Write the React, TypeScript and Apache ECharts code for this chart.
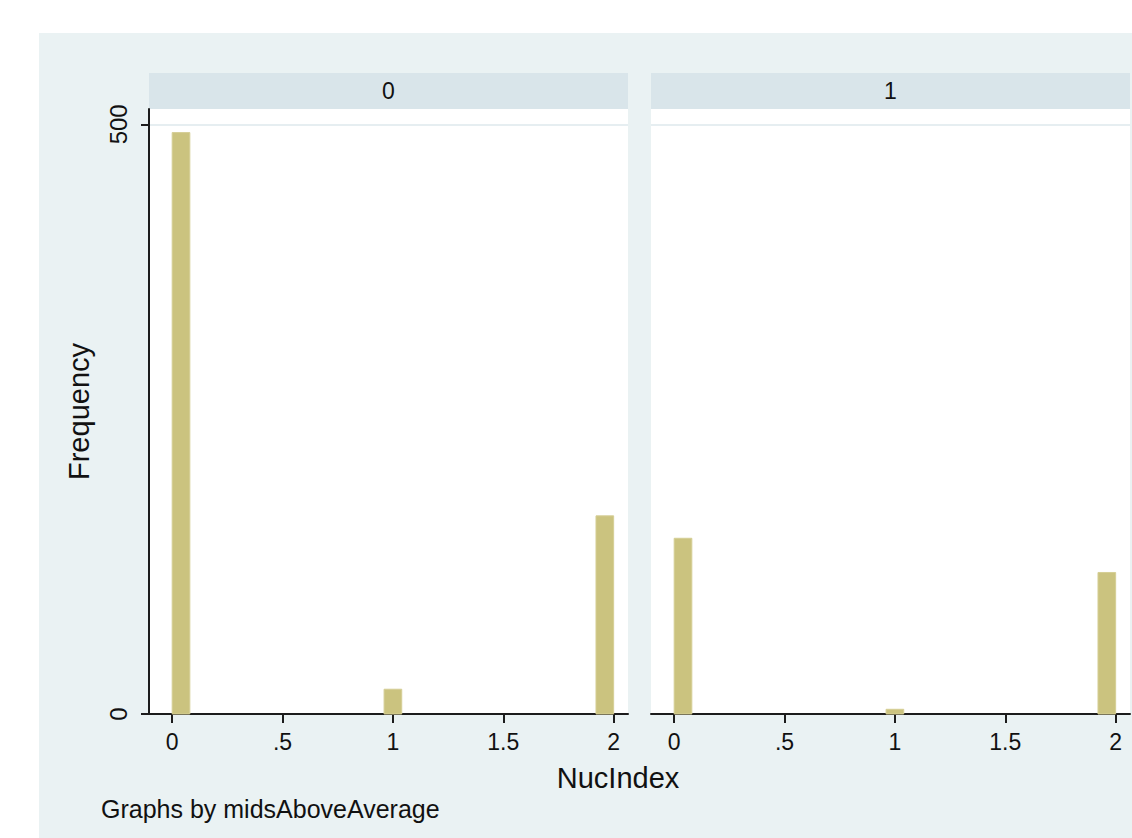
import React, { useEffect, useRef } from "react";
import * as echarts from "echarts";

const panelLabels = ["0", "1"];
const binWidth = 0.08;
const binStarts = [0, 0.96, 1.92];
const countsMid0 = [493, 21, 168];
const countsMid1 = [149, 4, 120];
const xTicks = [0, 0.5, 1, 1.5, 2];
const yTicks = [0, 500];
const xTitle = "NucIndex";
const yTitle = "Frequency";
const note = "Graphs by midsAboveAverage";

const FONT = "'Liberation Sans', Arial, Helvetica, sans-serif";
const BAR_FILL = "#CBC37F";
const BAR_STROKE = "#D5CE95";
const AXIS = "#1c1c1c";

function fmt(v: number) {
  const s = String(v);
  return s.startsWith("0.") ? s.slice(1) : s;
}

export default function App() {
  const ref = useRef<HTMLDivElement>(null);
  useEffect(() => {
    if (!ref.current) return;
    const chart = echarts.init(ref.current, null, { renderer: "svg" });
    const panels = [countsMid0, countsMid1];
    const grids = [
      { left: 149, top: 109, width: 479, height: 605 },
      { left: 651, top: 109, width: 479, height: 605 },
    ];
    const xAxes = grids.map((_, i) => ({
      type: "value",
      gridIndex: i,
      min: -0.105,
      max: 2.065,
      axisLine: { show: true, onZero: false, lineStyle: { color: AXIS, width: 2 } },
      axisTick: { show: true, length: 9, customValues: xTicks, lineStyle: { color: AXIS, width: 2 } },
      axisLabel: {
        show: true,
        customValues: xTicks,
        formatter: (v: number) => fmt(v),
        fontSize: 23,
        fontFamily: FONT,
        color: "#111",
        margin: 16,
      },
      splitLine: { show: false },
    }));
    const yAxes = grids.map((_, i) => ({
      type: "value",
      gridIndex: i,
      min: 0,
      max: 513,
      name: i === 0 ? yTitle : "",
      nameLocation: "middle",
      nameGap: 56,
      nameRotate: 90,
      nameTextStyle: { fontSize: 29, fontFamily: FONT, color: "#111" },
      axisLine: { show: i === 0, onZero: false, lineStyle: { color: AXIS, width: 2 } },
      axisTick: { show: i === 0, length: 8, customValues: yTicks, lineStyle: { color: AXIS, width: 2 } },
      axisLabel: {
        show: i === 0,
        customValues: yTicks,
        rotate: 90,
        fontSize: 24,
        fontFamily: FONT,
        color: "#111",
        margin: 19,
      },
      splitLine: { show: true, lineStyle: { color: "#E6EEF1", width: 2 } },
    }));
    const series = panels.map((counts, i) => ({
      type: "custom",
      xAxisIndex: i,
      yAxisIndex: i,
      data: binStarts.map((s, k) => [s, s + binWidth, counts[k]]),
      encode: { x: [0, 1], y: 2 },
      renderItem: (params: any, api: any) => {
        const p0 = api.coord([api.value(0), api.value(2)]);
        const p1 = api.coord([api.value(1), 0]);
        return {
          type: "rect",
          shape: { x: p0[0], y: p0[1], width: p1[0] - p0[0], height: p1[1] - p0[1] },
          style: { fill: BAR_FILL, stroke: BAR_STROKE, lineWidth: 1 },
        };
      },
    }));
    const graphic: any[] = [
      { type: "rect", z: -10, shape: { x: 39, y: 33, width: 1093, height: 805 }, style: { fill: "#EAF2F3" } },
      ...grids.map((g) => ({
        type: "rect",
        z: -5,
        shape: { x: g.left, y: 73, width: g.width, height: 36 },
        style: { fill: "#D9E5EA" },
      })),
      ...grids.map((g, i) => ({
        type: "text",
        x: g.left + g.width / 2,
        y: 91,
        style: {
          text: panelLabels[i],
          fontSize: 23,
          fontFamily: FONT,
          fill: "#111",
          textAlign: "center",
          textVerticalAlign: "middle",
        },
      })),
      {
        type: "line",
        shape: { x1: 141, y1: 714, x2: 150, y2: 714 },
        style: { stroke: AXIS, lineWidth: 2 },
      },
      {
        type: "text",
        x: 618,
        y: 778,
        style: { text: xTitle, fontSize: 29, fontFamily: FONT, fill: "#111", textAlign: "center", textVerticalAlign: "middle" },
      },
      {
        type: "text",
        x: 101,
        y: 809,
        style: { text: note, fontSize: 25, fontFamily: FONT, fill: "#111", textAlign: "left", textVerticalAlign: "middle" },
      },
    ];
    chart.setOption({
      animation: false,
      backgroundColor: "#ffffff",
      grid: grids.map((g) => ({
        ...g,
        show: true,
        backgroundColor: "#ffffff",
        borderWidth: 0,
        containLabel: false,
      })),
      xAxis: xAxes,
      yAxis: yAxes,
      series,
      graphic,
    } as any);
    return () => chart.dispose();
  }, []);
  return (
    <div
      ref={ref}
      style={{ position: "absolute", left: 0, top: 0, width: 1132, height: 838 }}
    />
  );
}
